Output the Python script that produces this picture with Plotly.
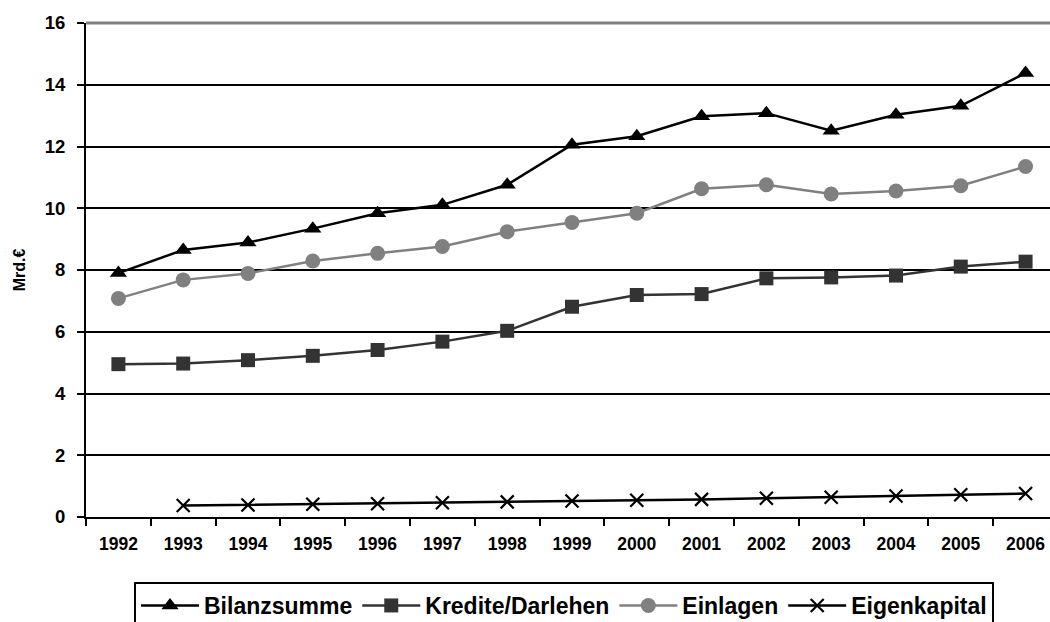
import plotly.graph_objects as go

years = ["1992", "1993", "1994", "1995", "1996", "1997", "1998", "1999",
         "2000", "2001", "2002", "2003", "2004", "2005", "2006"]
bilanzsumme = [7.9, 8.65, 8.89, 9.34, 9.84, 10.11, 10.76, 12.06, 12.33, 12.98,
               13.08, 12.51, 13.03, 13.32, 14.38]
kredite = [4.95, 4.97, 5.08, 5.22, 5.41, 5.68, 6.03, 6.81, 7.19, 7.22,
           7.73, 7.76, 7.82, 8.11, 8.27]
einlagen = [7.08, 7.68, 7.89, 8.29, 8.54, 8.76, 9.24, 9.54, 9.84, 10.63,
            10.76, 10.46, 10.56, 10.73, 11.35]
eigenkapital = [None, 0.37, 0.39, 0.41, 0.43, 0.46, 0.49, 0.52, 0.54, 0.57,
                0.61, 0.64, 0.68, 0.72, 0.76]
y_ticks = [0, 2, 4, 6, 8, 10, 12, 14, 16]

FONT = "Liberation Sans"

fig = go.Figure()
fig.add_trace(go.Scatter(x=years, y=bilanzsumme, name="Bilanzsumme", mode="lines+markers",
                         line=dict(color="#000000", width=2.5),
                         marker=dict(symbol="triangle-up", size=15, color="#000000")))
fig.add_trace(go.Scatter(x=years, y=kredite, name="Kredite/Darlehen", mode="lines+markers",
                         line=dict(color="#333333", width=2.5),
                         marker=dict(symbol="square", size=14, color="#333333")))
fig.add_trace(go.Scatter(x=years, y=einlagen, name="Einlagen", mode="lines+markers",
                         line=dict(color="#808080", width=2.5),
                         marker=dict(symbol="circle", size=15, color="#808080")))
fig.add_trace(go.Scatter(x=years, y=eigenkapital, name="Eigenkapital", mode="lines+markers",
                         line=dict(color="#000000", width=2.5),
                         marker=dict(symbol="x-thin", size=13,
                                     line=dict(color="#000000", width=2.2))))

fig.update_layout(
    width=1050, height=622,
    margin=dict(l=86, r=0, t=23, b=105, autoexpand=False),
    paper_bgcolor="white", plot_bgcolor="white",
    font=dict(family=FONT, color="#000000", weight="bold"),
    showlegend=True,
    legend=dict(orientation="h", xref="container", yref="container",
                x=134 / 1050, xanchor="left", y=1 - 582 / 622, yanchor="top",
                bordercolor="#000000", borderwidth=2, bgcolor="white",
                font=dict(size=23, family=FONT, weight="bold"),
                itemwidth=58),
    xaxis=dict(type="category", categoryorder="array", categoryarray=years,
               range=[-0.5, 14.377], showgrid=False, zeroline=False,
               automargin=False,
               showline=True, linecolor="#000000", linewidth=2,
               ticks="outside", tickson="boundaries", ticklen=7, tickwidth=2,
               tickcolor="#000000", ticklabelstandoff=10,
               tickfont=dict(size=17.5, family=FONT, weight="bold")),
    yaxis=dict(range=[0, 16], tickvals=y_ticks, showgrid=True,
               gridcolor="#000000", gridwidth=2, zeroline=False,
               automargin=False,
               showline=True, linecolor="#000000", linewidth=2,
               ticks="outside", ticklen=7, tickwidth=2, tickcolor="#000000",
               ticklabelstandoff=8,
               tickfont=dict(size=18.5, family=FONT, weight="bold"),
               title=dict(text="Mrd.€", standoff=15,
                          font=dict(size=16, family=FONT, weight="bold"))),
    shapes=[dict(type="line", xref="paper", yref="paper", x0=0, x1=1, y0=1, y1=1,
                 line=dict(color="#808080", width=3), layer="above")],
)

fig.write_html("out.html", config={"displayModeBar": False},
               post_script="document.body.style.margin='0';document.body.style.padding='0';")
